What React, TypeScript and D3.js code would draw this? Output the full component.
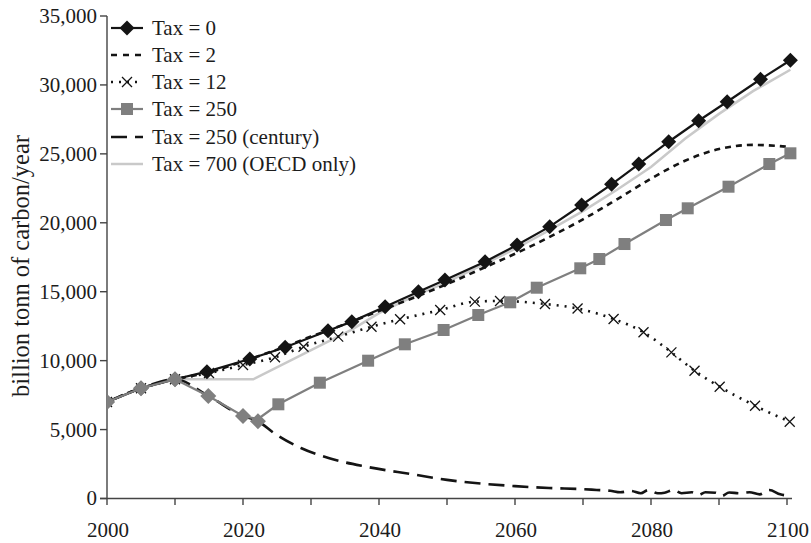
import React from "react";
import * as d3 from "d3";

const xTickYears = [2000, 2010, 2020, 2030, 2040, 2050, 2060, 2070, 2080, 2090, 2100];
const yTickValues = [0, 5000, 10000, 15000, 20000, 25000, 30000, 35000];

const tax0Years = [2000, 2005, 2010, 2014.7, 2021, 2026.2, 2032.5, 2036, 2040.9, 2045.8, 2049.7, 2055.6, 2060.3, 2065.1, 2069.8, 2074.2, 2078.2, 2082.6, 2087, 2091.2, 2096.1, 2100.5];
const tax0Values = [7000, 8000, 8650, 9200, 10120, 10970, 12170, 12830, 13910, 15000, 15850, 17180, 18390, 19720, 21290, 22790, 24260, 25880, 27400, 28780, 30410, 31790];

const tax2Years = [2000, 2005, 2010, 2015, 2020, 2025, 2030, 2035, 2040, 2045, 2050, 2055, 2060, 2065, 2070, 2075, 2080, 2085, 2090, 2095, 2100.5];
const tax2Values = [7000, 8000, 8650, 9150, 9950, 10800, 11750, 12650, 13600, 14550, 15550, 16650, 17750, 18950, 20250, 21700, 23200, 24500, 25350, 25650, 25500];

const tax12Years = [2000, 2005, 2010, 2015, 2020, 2024.7, 2028.9, 2034, 2038.9, 2043.1, 2049, 2054.1, 2057.8, 2064.4, 2069.2, 2074.5, 2078.9, 2083, 2086.4, 2090.1, 2095.3, 2100.4];
const tax12Values = [7000, 8000, 8650, 9100, 9680, 10240, 11010, 11740, 12460, 13000, 13670, 14280, 14330, 14110, 13780, 13020, 12060, 10600, 9270, 8110, 6730, 5570];

const tax250Years = [2000, 2005, 2010, 2014.9, 2020, 2022.2, 2025.2, 2031.3, 2038.4, 2043.8, 2049.5, 2054.6, 2059.3, 2063.2, 2069.6, 2072.4, 2076.1, 2082.2, 2085.4, 2091.4, 2097.4, 2100.5];
const tax250Values = [7000, 8000, 8650, 7435, 5984, 5767, 6833, 8400, 9996, 11185, 12223, 13311, 14232, 15291, 16698, 17372, 18460, 20201, 21050, 22617, 24264, 25040];

const centuryYears = [2000, 2005, 2010, 2014.9, 2020, 2022.2, 2024.6, 2028.6, 2032.7, 2038.1, 2045, 2050, 2055, 2060, 2065, 2070, 2072, 2074, 2075.5, 2077, 2078.5, 2079.6, 2081, 2082, 2083.3, 2084.5, 2086, 2087, 2088, 2089.5, 2090.4, 2091.5, 2093, 2094.5, 2096, 2097.4, 2099, 2100.3];
const centuryValues = [7000, 8000, 8650, 7435, 5984, 5600, 4729, 3641, 2916, 2307, 1750, 1350, 1080, 900, 760, 680, 620, 560, 450, 550, 380, 620, 380, 420, 620, 380, 450, 250, 450, 420, 180, 430, 380, 450, 300, 620, 300, 200];
const centuryMarkedCount = 6;

const oecdYears = [2000, 2005, 2010, 2021.5, 2036, 2040, 2045, 2050, 2055, 2060, 2065, 2070, 2075, 2080, 2085, 2090, 2095, 2100.5];
const oecdValues = [7000, 8000, 8650, 8650, 12250, 13450, 14650, 15700, 16900, 18100, 19450, 20850, 22400, 24050, 26100, 27900, 29550, 31100];

const legendLabels = ["Tax = 0", "Tax = 2", "Tax = 12", "Tax = 250", "Tax = 250 (century)", "Tax = 700 (OECD only)"];

const W = 811;
const H = 543;
const FONT = "'Liberation Serif', 'Times New Roman', serif";

const BLACK = "#141414";
const GRAY = "#7f7f7f";
const LIGHT = "#c9c9c9";
const AXIS = "#444";
const TEXT = "#1c1c1c";

type Pt = { x: number; y: number };

export default function App() {
  const x = d3.scaleLinear().domain([2000, 2100]).range([107, 787]);
  const y = d3.scaleLinear().domain([0, 35000]).range([498.5, 16]);

  const zip = (ys: number[], vs: number[]): Pt[] => ys.map((yr, i) => ({ x: x(yr), y: y(vs[i]) }));

  const linear = d3.line<Pt>().x((d) => d.x).y((d) => d.y);
  const smooth = d3.line<Pt>().x((d) => d.x).y((d) => d.y).curve(d3.curveMonotoneX);

  const p0 = zip(tax0Years, tax0Values);
  const p2 = zip(tax2Years, tax2Values);
  const p12 = zip(tax12Years, tax12Values);
  const p250 = zip(tax250Years, tax250Values);
  const pc = zip(centuryYears, centuryValues);
  const po = zip(oecdYears, oecdValues);

  const diamond = (cx: number, cy: number, r: number) =>
    `M${cx},${cy - r}L${cx + r},${cy}L${cx},${cy + r}L${cx - r},${cy}Z`;
  const cross = (cx: number, cy: number, r: number) =>
    `M${cx - r},${cy - r}L${cx + r},${cy + r}M${cx - r},${cy + r}L${cx + r},${cy - r}`;

  const legendY = [28, 55, 82, 109, 137, 164];
  const lx0 = 111;
  const lx1 = 143;
  const lmx = 127;

  return (
    <svg
      width={W}
      height={H}
      style={{ position: "absolute", left: 0, top: 0, display: "block", background: "#fff" }}
      fontFamily={FONT}
    >
      <defs>
        <clipPath id="plot">
          <rect x={107} y={0} width={700} height={499} />
        </clipPath>
      </defs>

      {/* axes */}
      <line x1={107} y1={16} x2={107} y2={499} stroke={AXIS} strokeWidth={1.4} />
      <line x1={100} y1={498.5} x2={792} y2={498.5} stroke={AXIS} strokeWidth={1.4} />
      {yTickValues.map((v) => (
        <g key={"yt" + v}>
          <line x1={100} x2={107} y1={y(v)} y2={y(v)} stroke={AXIS} strokeWidth={1.4} />
          <text x={97} y={y(v)} dy="0.33em" textAnchor="end" fontSize={21} fill={TEXT}>
            {d3.format(",")(v)}
          </text>
        </g>
      ))}
      {xTickYears.map((t) => (
        <g key={"xt" + t}>
          <line x1={x(t)} x2={x(t)} y1={498.5} y2={505} stroke={AXIS} strokeWidth={1.4} />
          {t % 20 === 0 && (
            <text x={x(t) + 1} y={536.5} textAnchor="middle" fontSize={21} fill={TEXT}>
              {t}
            </text>
          )}
        </g>
      ))}
      <text
        transform={`translate(21,266) rotate(-90)`}
        textAnchor="middle"
        dy="0.33em"
        fontSize={24.5}
        fill={TEXT}
      >
        billion tonn of carbon/year
      </text>

      <g clipPath="url(#plot)">
        {/* OECD only */}
        <path d={linear(po) || ""} fill="none" stroke={LIGHT} strokeWidth={2.5} />
        {/* Tax = 0 */}
        <path d={linear(p0) || ""} fill="none" stroke={BLACK} strokeWidth={2.2} />
        {p0.map((p, i) => (
          <path key={"d" + i} d={diamond(p.x, p.y, 7.5)} fill={BLACK} />
        ))}
        {/* Tax = 2 */}
        <path d={smooth(p2) || ""} fill="none" stroke={BLACK} strokeWidth={2.6} strokeDasharray="6,5" />
        {/* Tax = 12 */}
        <path d={smooth(p12) || ""} fill="none" stroke={BLACK} strokeWidth={2.6} strokeDasharray="2,6" strokeLinecap="butt" />
        {p12.map((p, i) => (
          <path key={"x" + i} d={cross(p.x, p.y, 5)} stroke={BLACK} strokeWidth={1.3} fill="none" />
        ))}
        {/* Tax = 250 century */}
        <path d={smooth(pc) || ""} fill="none" stroke={BLACK} strokeWidth={2.6} strokeDasharray="16,8" />
        {/* Tax = 250 */}
        <path d={linear(p250) || ""} fill="none" stroke={GRAY} strokeWidth={2.2} />
        {p250.map((p, i) =>
          i >= centuryMarkedCount ? (
            <rect key={"s" + i} x={p.x - 6} y={p.y - 6} width={12} height={12} fill={GRAY} />
          ) : null
        )}
        {pc.slice(0, centuryMarkedCount).map((p, i) => (
          <path key={"cd" + i} d={diamond(p.x, p.y, 8)} fill={GRAY} />
        ))}
      </g>

      {/* legend */}
      <g>
        <line x1={lx0} x2={lx1} y1={legendY[0]} y2={legendY[0]} stroke={BLACK} strokeWidth={2.2} />
        <path d={diamond(lmx, legendY[0], 7.5)} fill={BLACK} />

        <line x1={lx0} x2={lx1} y1={legendY[1]} y2={legendY[1]} stroke={BLACK} strokeWidth={2.6} strokeDasharray="6,6" />

        <line x1={lx0} x2={lx1} y1={legendY[2]} y2={legendY[2]} stroke={BLACK} strokeWidth={2.6} strokeDasharray="2,6" />
        <path d={cross(lmx, legendY[2], 5)} stroke={BLACK} strokeWidth={1.3} fill="none" />

        <line x1={lx0} x2={lx1} y1={legendY[3]} y2={legendY[3]} stroke={GRAY} strokeWidth={2.2} />
        <rect x={lmx - 6} y={legendY[3] - 6} width={12} height={12} fill={GRAY} />

        <line x1={lx0} x2={lx1} y1={legendY[4]} y2={legendY[4]} stroke={BLACK} strokeWidth={2.6} strokeDasharray="16,8" />

        <line x1={lx0} x2={lx1} y1={legendY[5]} y2={legendY[5]} stroke={LIGHT} strokeWidth={2.5} />

        {legendLabels.map((l, i) => (
          <text key={"lt" + i} x={152} y={legendY[i]} dy="0.33em" fontSize={21} fill={TEXT}>
            {l}
          </text>
        ))}
      </g>
    </svg>
  );
}
